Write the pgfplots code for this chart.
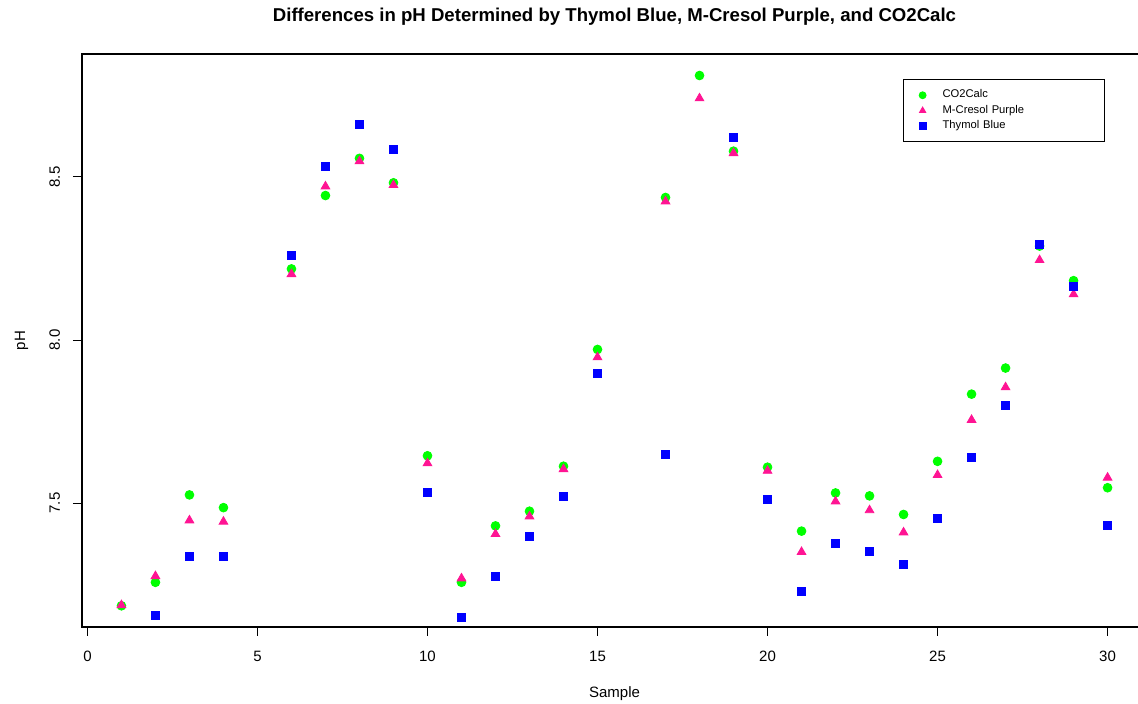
\documentclass[border=0pt]{standalone}
\usepackage{fontspec}
\setmainfont{Liberation Sans}
\usepackage{pgfplots}
\pgfplotsset{compat=1.18}
\usetikzlibrary{calc}
\definecolor{rgreen}{RGB}{0,255,0}
\definecolor{rpink}{RGB}{255,20,147}
\definecolor{rblue}{RGB}{0,0,255}

\begin{document}
\begin{tikzpicture}
\begin{axis}[
  scale only axis,
  width=532.5pt, height=286.5pt,
  xmin=-0.16, xmax=31.16,
  ymin=7.12, ymax=8.877,
  xtick={0,5,10,15,20,25,30},
  ytick={7.5,8.0,8.5},
  yticklabels={7.5,8.0,8.5},
  xtick pos=left, ytick pos=left,
  tick align=outside,
  major tick length=4.5pt,
  tick style={black, line width=0.5pt},
  axis line style={line width=0.6pt},
  font=\fontsize{7.5}{8.5}\selectfont,
  /pgf/number format/assume math mode=true,
  xticklabel style={anchor=north, inner sep=0pt, yshift=-7.5pt},
  yticklabel style={rotate=90, anchor=base, inner sep=0pt, yshift=6.5pt},
  every axis title shift=0pt,
  title={Differences in pH Determined by Thymol Blue, M-Cresol Purple, and CO2Calc},
  title style={at={(0.5,1)}, anchor=base, yshift=16pt, font=\fontsize{9.3}{10}\selectfont\bfseries},
  xlabel={Sample},
  xlabel style={at={(axis description cs:0.5,0)}, anchor=base, yshift=-35.5pt},
  ylabel={pH},
  ylabel style={at={(axis description cs:-0.0535,0.5)}, anchor=base, rotate=0},
  legend style={at={(0.771,0.956)}, anchor=north west, draw=black, line width=0.5pt,
    font=\fontsize{5.6}{6.5}\selectfont, row sep=0.1pt, inner xsep=0pt, inner ysep=4pt,
    nodes={text width=80pt, inner xsep=1pt, inner ysep=1pt}},
  legend cell align=left,
  legend image code/.code={%
    \path[draw=none] (-9.5pt,0pt) (9pt,0pt);
    \draw[#1, mark size=1.7pt] plot coordinates {(0pt,0pt)};},
  only marks,
]
\addplot[mark=*, mark size=2.2pt, color=rgreen, mark options={draw=rgreen, fill=rgreen}]
  coordinates {
  (1,7.185) (2,7.257) (3,7.525) (4,7.486) (6,8.218) (7,8.443) (8,8.557) (9,8.482)
  (10,7.645) (11,7.257) (12,7.430) (13,7.475) (14,7.613) (15,7.971) (17,8.437)
  (18,8.811) (19,8.579) (20,7.610) (21,7.414) (22,7.531) (23,7.522) (24,7.465)
  (25,7.628) (26,7.834) (27,7.914) (28,8.288) (29,8.182) (30,7.547)};
\addlegendentry{CO2Calc}
\addplot[mark=triangle*, mark size=2.5pt, color=rpink, mark options={draw=rpink, fill=rpink}]
  coordinates {
  (1,7.187) (2,7.276) (3,7.447) (4,7.443) (6,8.202) (7,8.471) (8,8.548) (9,8.475)
  (10,7.622) (11,7.269) (12,7.405) (13,7.459) (14,7.604) (15,7.947) (17,8.425)
  (18,8.741) (19,8.573) (20,7.599) (21,7.350) (22,7.505) (23,7.478) (24,7.410)
  (25,7.586) (26,7.755) (27,7.855) (28,8.245) (29,8.140) (30,7.578)};
\addlegendentry{M-Cresol Purple}
\addplot[mark=square*, mark size=2.0pt, color=rblue, mark options={draw=rblue, fill=rblue}]
  coordinates {
  (2,7.157) (3,7.335) (4,7.335) (6,8.258) (7,8.531) (8,8.660) (9,8.583)
  (10,7.534) (11,7.148) (12,7.274) (13,7.397) (14,7.519) (15,7.897) (17,7.648)
  (19,8.621) (20,7.510) (21,7.228) (22,7.375) (23,7.351) (24,7.311)
  (25,7.452) (26,7.639) (27,7.798) (28,8.292) (29,8.165) (30,7.430)};
\addlegendentry{Thymol Blue}
\end{axis}
\pgfresetboundingbox
\useasboundingbox (current axis.south west) ++(-41pt,-38.5pt) rectangle ($(current axis.north west)+(528pt,27pt)$);
\end{tikzpicture}
\end{document}
